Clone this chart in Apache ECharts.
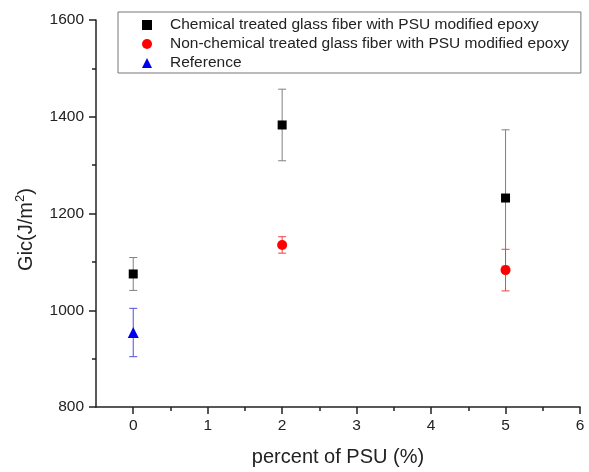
<!DOCTYPE html>
<html>
<head>
<meta charset="utf-8">
<script src="https://cdn.jsdelivr.net/npm/echarts@6/dist/echarts.min.js"></script>
<style>
  html, body { margin: 0; padding: 0; background: #fff; }
  #chart { width: 589px; height: 472px; }
</style>
</head>
<body>
<div id="chart"></div>
<script>
// data
var chemName = 'Chemical treated glass fiber with PSU modified epoxy';
var nonName = 'Non-chemical treated glass fiber with PSU modified epoxy';
var refName = 'Reference';

var chemPct = [0, 2, 5];
var chemGic = [1075, 1383, 1232];
var chemErr = [34, 74, 141];

var nonPct = [2, 5];
var nonGic = [1135, 1083];
var nonErr = [17, 43];

var refPct = [0];
var refGic = [954];
var refErr = [50];

var xMajor = [0, 1, 2, 3, 4, 5, 6];
var xMinor = [0.5, 1.5, 2.5, 3.5, 4.5, 5.5];

var font = "'Liberation Sans', Arial, sans-serif";

function pairs(xs, ys) {
	return xs.map(function (x, i) { return [x, ys[i]]; });
}
function bars(xs, ys, es) {
	return xs.map(function (x, i) { return [x, ys[i] - es[i], ys[i] + es[i]]; });
}
function errorBarSeries(name, xs, ys, es, color) {
	return {
		name : name,
		type : 'custom',
		z : 1,
		renderItem : function (params, api) {
			var x = api.value(0);
			var lo = api.coord([x, api.value(1)]);
			var hi = api.coord([x, api.value(2)]);
			var w = 4;
			var style = { stroke : color, lineWidth : 1 };
			return {
				type : 'group',
				children : [
					{ type : 'line', shape : { x1 : lo[0], y1 : lo[1], x2 : hi[0], y2 : hi[1] }, style : style },
					{ type : 'line', shape : { x1 : lo[0] - w, y1 : lo[1], x2 : lo[0] + w, y2 : lo[1] }, style : style },
					{ type : 'line', shape : { x1 : hi[0] - w, y1 : hi[1], x2 : hi[0] + w, y2 : hi[1] }, style : style }
				]
			};
		},
		data : bars(xs, ys, es)
	};
}

var myChart = echarts.init(document.getElementById('chart'));
var option = {
	backgroundColor : '#fff',
	animation : false,
	textStyle : { fontFamily : font },
	grid : {
		left : 96,
		right : 9,
		top : 20,
		bottom : 62
	},
	legend : {
		orient : 'vertical',
		left : 118,
		top : 12,
		padding : [4, 12, 1, 24],
		borderColor : '#777',
		borderWidth : 1,
		itemWidth : 10,
		itemHeight : 10,
		itemGap : 1,
		formatter : function (name) { return '{t|' + name + '}'; },
		textStyle : {
			fontFamily : font,
			fontSize : 15.5,
			color : '#222',
			lineHeight : 18,
			rich : {
				t : { fontFamily : font, fontSize : 15.5, color : '#222', lineHeight : 18, padding : [0, 0, 0, 13] }
			}
		},
		data : [
			{ name : chemName, icon : 'rect' },
			{ name : nonName, icon : 'circle' },
			{ name : refName, icon : 'triangle' }
		]
	},
	xAxis : [ {
		type : 'value',
		min : -0.5,
		max : 6,
		name : 'percent of PSU (%)',
		nameLocation : 'middle',
		nameGap : 40,
		nameTextStyle : { fontFamily : font, fontSize : 20, color : '#222', verticalAlign : 'top' },
		axisLine : { onZero : false, lineStyle : { color : '#222', width : 1.5 } },
		axisTick : { length : 7, customValues : xMajor, lineStyle : { color : '#222', width : 1.5 } },
		axisLabel : { customValues : xMajor, margin : 11, fontSize : 15.5, color : '#222', fontFamily : font },
		splitLine : { show : false }
	}, {
		type : 'value',
		position : 'bottom',
		min : -0.5,
		max : 6,
		axisLine : { show : false, onZero : false },
		axisTick : { length : 4, customValues : xMinor, lineStyle : { color : '#222', width : 1.5 } },
		axisLabel : { show : false },
		splitLine : { show : false }
	} ],
	yAxis : [ {
		type : 'value',
		min : 800,
		max : 1600,
		interval : 200,
		name : '{a|Gic(J/m}{b|2}{a|)}',
		nameLocation : 'middle',
		nameGap : 58,
		nameTextStyle : {
			fontFamily : font,
			color : '#222',
			padding : [0, 32, 0, 0],
			rich : {
				a : { fontFamily : font, fontSize : 20, color : '#222', lineHeight : 24 },
				b : { fontFamily : font, fontSize : 13, color : '#222', verticalAlign : 'top', lineHeight : 24, padding : [0, 0, 10, 0] }
			}
		},
		axisLine : { show : true, onZero : false, lineStyle : { color : '#222', width : 1.5 } },
		axisTick : { show : true, length : 7, lineStyle : { color : '#222', width : 1.5 } },
		minorTick : { show : true, splitNumber : 2, length : 4, lineStyle : { color : '#222', width : 1.5 } },
		axisLabel : {
			margin : 12,
			fontSize : 15.5,
			color : '#222',
			fontFamily : font,
			formatter : function (v) { return String(v); }
		},
		splitLine : { show : false }
	} ],
	series : [
		errorBarSeries('chemErr', chemPct, chemGic, chemErr, '#808080'),
		errorBarSeries('nonErr', nonPct, nonGic, nonErr, '#f04040'),
		errorBarSeries('refErr', refPct, refGic, refErr, '#5050e0'),
		{
			name : chemName,
			type : 'scatter',
			symbol : 'rect',
			symbolSize : 9,
			itemStyle : { color : '#000', opacity : 1 },
			z : 3,
			data : pairs(chemPct, chemGic)
		}, {
			name : nonName,
			type : 'scatter',
			symbol : 'circle',
			symbolSize : 10,
			itemStyle : { color : '#ff0000', opacity : 1 },
			z : 3,
			data : pairs(nonPct, nonGic)
		}, {
			name : refName,
			type : 'scatter',
			symbol : 'triangle',
			symbolSize : 11,
			itemStyle : { color : '#0000ee', opacity : 1 },
			z : 3,
			data : pairs(refPct, refGic)
		}
	]
};
myChart.setOption(option);
</script>
</body>
</html>
